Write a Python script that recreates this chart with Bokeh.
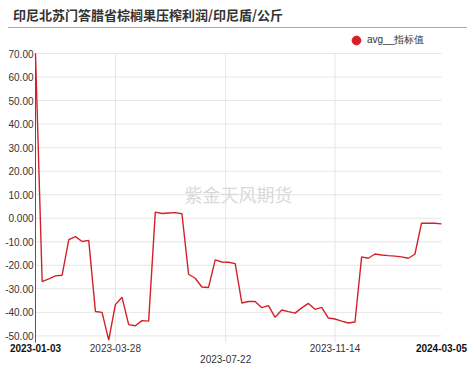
import pandas as pd
from bokeh.plotting import figure
from bokeh.models import (ColumnDataSource, Range1d, Label, Legend, LegendItem, Div)
from bokeh.layouts import column
from bokeh.embed import file_html
from bokeh.resources import INLINE

title_text = "印尼北苏门答腊省棕榈果压榨利润/印尼盾/公斤"
series_name = "avg__指标值"
watermark = "紫金天风期货"

start_date = "2023-01-03"
end_date = "2024-03-05"
values = [70.0, -26.9, -25.8, -24.5, -24.2, -9.1, -7.8, -9.9, -9.4, -39.6,
          -40.0, -51.8, -36.7, -33.6, -45.2, -45.7, -43.5, -43.7, 2.6, 2.0,
          2.2, 2.4, 1.9, -23.8, -25.5, -29.2, -29.4, -17.7, -18.6, -18.7,
          -19.3, -36.0, -35.4, -35.4, -38.0, -37.1, -42.1, -39.0, -39.7, -40.3,
          -38.1, -36.2, -38.7, -37.9, -42.4, -42.8, -43.7, -44.5, -44.1, -16.4,
          -17.0, -15.2, -15.6, -15.9, -16.1, -16.4, -17.0, -15.3, -2.1, -2.1,
          -2.1, -2.4]
x_tick_labels = ["2023-01-03", "2023-03-28", "2023-07-22", "2023-11-14", "2024-03-05"]
y_ticks = [-50, -40, -30, -20, -10, 0, 10, 20, 30, 40, 50, 60, 70]
y_tick_labels = ["-50.00", "-40.00", "-30.00", "-20.00", "-10.00", "0.000", "10.00",
                 "20.00", "30.00", "40.00", "50.00", "60.00", "70.00"]

dates = pd.date_range(start_date, periods=len(values), freq="7D")
src = ColumnDataSource(data=dict(date=dates, value=values))

def ms(s):
    return pd.Timestamp(s).value / 1e6

t0, t1 = ms(start_date), ms(end_date)
y0, y1 = -52.8, 70

# pixel layout of the plotting area inside the 471 x 335 figure
W, H = 471, 335
left, right, top, bot = 35, 441, 25, 314
ppx = (right - left) / (t1 - t0)          # px per ms
ppy = (bot - top) / (y1 - y0)             # px per unit
x_start = t0 - left / ppx
x_end = t1 + (W - right) / ppx
y_end = y1 + top / ppy
y_start = y0 - (H - bot) / ppy

p = figure(width=W, height=H, x_axis_type="datetime", output_backend="svg",
           toolbar_location=None, x_range=Range1d(x_start, x_end),
           y_range=Range1d(y_start, y_end),
           min_border_left=0, min_border_right=0, min_border_top=0, min_border_bottom=0)
p.outline_line_color = None
p.background_fill_color = "white"
p.xaxis.visible = False
p.yaxis.visible = False
p.xgrid.visible = False
p.ygrid.visible = False

grid_color = "#e6e6e6"
# horizontal grid lines
p.segment(x0=[t0] * len(y_ticks), y0=y_ticks, x1=[t1] * len(y_ticks), y1=y_ticks,
          line_color=grid_color, line_width=1)
# vertical grid lines
vt = [ms(s) for s in x_tick_labels[1:-1]]
p.segment(x0=vt, y0=[y0] * len(vt), x1=vt, y1=[y1] * len(vt), line_color=grid_color, line_width=1)
# left axis line
p.segment(x0=[t0], y0=[y0], x1=[t0], y1=[y1], line_color="#555555", line_width=1)

# y tick labels
for v, lab in zip(y_ticks, y_tick_labels):
    p.add_layout(Label(x=t0 - 2 / ppx, y=v, text=lab, text_align="right",
                       text_baseline="middle", text_font="Liberation Sans",
                       text_font_size="10px", text_color="#333333"))

# x tick labels
for i, lab in enumerate(x_tick_labels):
    bold = i in (0, len(x_tick_labels) - 1)
    ly = y0 - (16 if i == 2 else 5) / ppy
    p.add_layout(Label(x=ms(lab), y=ly, text=lab, text_align="center",
                       text_baseline="middle", text_font="Liberation Sans",
                       text_font_size="10px",
                       text_font_style="bold" if bold else "normal",
                       text_color="#111111" if bold else "#333333"))

# watermark
p.add_layout(Label(x=(t0 + t1) / 2, y=10.1, text=watermark, text_align="center",
                   text_baseline="middle", text_font="Noto Sans CJK SC",
                   text_font_size="18px", text_color="#d9d9d9"))

line = p.line(x="date", y="value", source=src, line_color="#d42028", line_width=1.4)
dot = p.scatter(x="date", y="value", source=src, size=9, marker="circle",
                fill_color="#d42028", line_color="#d42028", visible=False)

legend = Legend(items=[LegendItem(label=series_name, renderers=[dot])],
                location=(345, H - 23), orientation="horizontal",
                glyph_width=22, glyph_height=22, label_standoff=0, label_height=22,
                padding=0, margin=0, spacing=0, border_line_color=None,
                background_fill_alpha=0, inactive_fill_alpha=0,
                label_text_font_size="10px",
                label_text_font="Liberation Sans", label_text_color="#333333")
p.add_layout(legend)

title = Div(text=('<div style="box-sizing:border-box;width:459px;height:28px;line-height:30px;'
                  'border-bottom:1px solid #aaaaaa;padding-left:5px;'
                  'font-family:\'Noto Sans CJK SC\';font-size:13px;'
                  'font-weight:bold;color:#333333;white-space:nowrap;">' + title_text + '</div>'),
            width=459, height=28, margin=(0, 4, 0, 8))
bottom = Div(text='<div style="box-sizing:border-box;width:471px;height:2px;border-top:1px solid #e4e4e4;"></div>',
             width=471, height=2, margin=(0, 0, 0, 0))

layout = column(title, p, bottom, spacing=0)
open("out.html", "w").write(file_html(layout, INLINE))
